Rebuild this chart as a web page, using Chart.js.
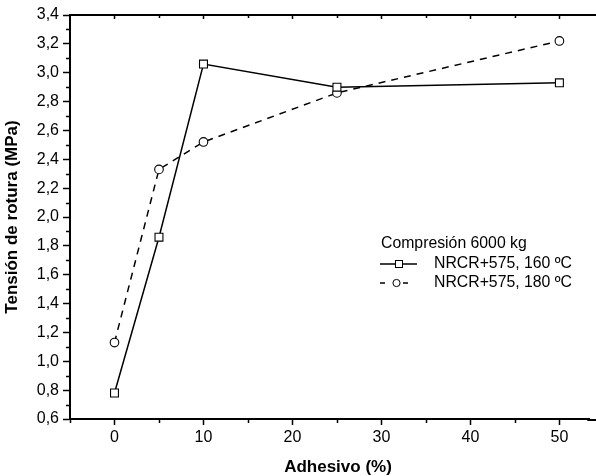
<!DOCTYPE html>
<html>
<head>
<meta charset="utf-8">
<script src="https://cdn.jsdelivr.net/npm/chart.js@4/dist/chart.umd.min.js"></script>
<style>
html,body{margin:0;padding:0;background:#fff;}
canvas{display:block;}
</style>
</head>
<body>
<canvas id="c" width="596" height="476"></canvas>
<script>
// ---- data ----
const adhesivo = [0, 5, 10, 25, 50];
const tension160 = [0.78, 1.86, 3.06, 2.90, 2.93];
const tension180 = [1.13, 2.33, 2.52, 2.86, 3.22];
const seriesNames = ['NRCR+575, 160 ºC', 'NRCR+575, 180 ºC'];
const legendTitle = 'Compresión 6000 kg';
const xMajorTicks = [0, 10, 20, 30, 40, 50];
const xMinorTicks = [-5, 5, 15, 25, 35, 45];
const yMajorTicks = [0.6, 0.8, 1.0, 1.2, 1.4, 1.6, 1.8, 2.0, 2.2, 2.4, 2.6, 2.8, 3.0, 3.2, 3.4];
const yTickLabels = ['0,6','0,8','1,0','1,2','1,4','1,6','1,8','2,0','2,2','2,4','2,6','2,8','3,0','3,2','3,4'];
const yMinorTicks = [0.7, 0.9, 1.1, 1.3, 1.5, 1.7, 1.9, 2.1, 2.3, 2.5, 2.7, 2.9, 3.1, 3.3];
const xTitle = 'Adhesivo (%)';
const yTitle = 'Tensión de rotura (MPa)';

const FONT = '"Liberation Sans", Arial, Helvetica, sans-serif';
Chart.defaults.font.family = FONT;
Chart.defaults.color = '#000';

const toXY = (xs, ys) => xs.map((x, i) => ({x: x, y: ys[i]}));

const extras = {
  id: 'extras',
  afterDraw(chart) {
    const ctx = chart.ctx;
    const a = chart.chartArea;
    const W = chart.width;
    const xs = chart.scales.x, ys = chart.scales.y;
    ctx.save();
    ctx.strokeStyle = '#000';
    // top frame line and bottom-axis continuation to the picture edge
    ctx.lineWidth = 2;
    ctx.beginPath();
    ctx.moveTo(a.left - 1, a.top);
    ctx.lineTo(W, a.top);
    ctx.stroke();
    ctx.beginPath();
    ctx.moveTo(a.right - 2, a.bottom + 1);
    ctx.lineTo(W, a.bottom + 1);
    ctx.stroke();
    ctx.lineWidth = 1.5;
    // top ticks (inward)
    xMajorTicks.concat(xMinorTicks).forEach(v => {
      const px = Math.round(xs.getPixelForValue(v)) + 0.5;
      if (px <= a.left + 1 || px > a.right) return;
      const len = xMajorTicks.includes(v) ? 4 : 3;
      ctx.beginPath(); ctx.moveTo(px, a.top); ctx.lineTo(px, a.top + len); ctx.stroke();
    });
    // bottom minor ticks
    xMinorTicks.forEach(v => {
      let px = Math.round(xs.getPixelForValue(v)) + 0.5;
      if (px < a.left - 1 || px > a.right) return;
      ctx.beginPath(); ctx.moveTo(px, a.bottom); ctx.lineTo(px, a.bottom + 4); ctx.stroke();
    });
    // left minor ticks
    yMinorTicks.forEach(v => {
      const py = Math.round(ys.getPixelForValue(v)) + 0.5;
      ctx.beginPath(); ctx.moveTo(a.left, py); ctx.lineTo(a.left - 4, py); ctx.stroke();
    });
    // x axis title
    ctx.fillStyle = '#000';
    ctx.font = 'bold 17px ' + FONT;
    ctx.textAlign = 'center';
    ctx.textBaseline = 'middle';
    ctx.fillText(xTitle, 338, 467);
    // legend
    const lx = 381, ty = 244;
    ctx.font = '15.8px ' + FONT;
    ctx.textBaseline = 'middle';
    ctx.textAlign = 'left';
    ctx.fillText(legendTitle, lx, ty);
    const r1 = 264, r2 = 283;
    ctx.lineWidth = 1.5;
    ctx.beginPath(); ctx.moveTo(380, r1); ctx.lineTo(417, r1); ctx.stroke();
    ctx.fillStyle = '#fff';
    ctx.lineWidth = 1;
    ctx.fillRect(395.5, r1 - 3.5, 7, 7);
    ctx.strokeRect(395.5, r1 - 3.5, 7, 7);
    ctx.lineWidth = 1.5;
    ctx.beginPath(); ctx.moveTo(380, r2); ctx.lineTo(385, r2); ctx.stroke();
    ctx.beginPath(); ctx.moveTo(403, r2); ctx.lineTo(408, r2); ctx.stroke();
    ctx.lineWidth = 1;
    ctx.beginPath(); ctx.arc(396.5, r2, 3.6, 0, Math.PI * 2); ctx.fill(); ctx.stroke();
    ctx.fillStyle = '#000';
    ctx.fillText(seriesNames[0], 434, r1);
    ctx.fillText(seriesNames[1], 434, r2);
    ctx.restore();
  }
};

new Chart(document.getElementById('c'), {
  type: 'scatter',
  data: {
    datasets: [
      {
        label: seriesNames[0],
        data: toXY(adhesivo, tension160),
        showLine: true,
        borderColor: '#000',
        borderWidth: 1.5,
        pointStyle: 'rect',
        pointRadius: 5.6,
        pointBackgroundColor: '#fff',
        pointBorderColor: '#000',
        pointBorderWidth: 1.1,
        tension: 0
      },
      {
        label: seriesNames[1],
        data: toXY(adhesivo, tension180),
        showLine: true,
        borderColor: '#000',
        borderWidth: 1.5,
        borderDash: [7, 6],
        pointStyle: 'circle',
        pointRadius: 4.3,
        pointBackgroundColor: '#fff',
        pointBorderColor: '#000',
        pointBorderWidth: 1.1,
        tension: 0
      }
    ]
  },
  options: {
    responsive: false,
    animation: false,
    layout: {padding: {top: 15, right: 0, left: 0, bottom: 0}},
    plugins: {legend: {display: false}, tooltip: {enabled: false}},
    scales: {
      x: {
        type: 'linear',
        min: -5,
        max: 53.36,
        afterBuildTicks: s => { s.ticks = xMajorTicks.map(v => ({value: v})); },
        afterFit: s => { s.height = 57; s.paddingRight = 0; s.paddingLeft = 0; },
        ticks: {font: {size: 16}, padding: 3, color: '#000', callback: v => String(v)},
        grid: {drawOnChartArea: false, drawTicks: true, tickLength: 6, tickWidth: 1.5, tickColor: '#000'},
        border: {display: true, color: '#000', width: 2},
        title: {display: false, text: xTitle}
      },
      y: {
        type: 'linear',
        min: 0.6,
        max: 3.4,
        afterBuildTicks: s => { s.ticks = yMajorTicks.map(v => ({value: v})); },
        afterFit: s => { s.width = 70; s.paddingTop = 0; s.paddingBottom = 0; },
        ticks: {
          font: {size: 16}, padding: 4, color: '#000',
          callback: v => { const i = yMajorTicks.findIndex(t => Math.abs(t - v) < 1e-6); return i >= 0 ? yTickLabels[i] : ''; }
        },
        grid: {drawOnChartArea: false, drawTicks: true, tickLength: 7, tickWidth: 1.5, tickColor: '#000'},
        border: {display: true, color: '#000', width: 2},
        title: {display: true, text: yTitle, font: {size: 17, weight: 'bold', lineHeight: 1}, padding: {top: 4, bottom: 0}, color: '#000'}
      }
    }
  },
  plugins: [extras]
});
</script>
</body>
</html>
